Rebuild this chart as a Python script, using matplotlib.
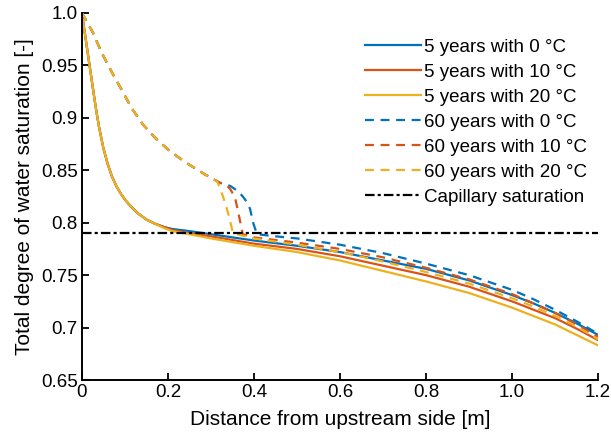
import numpy as np
import matplotlib
matplotlib.use("Agg")
import matplotlib.pyplot as plt

plt.rcParams["font.family"] = ["Liberation Sans", "DejaVu Sans"]

# 5 years (solid)
x5 = [0, 0.005, 0.01, 0.015, 0.02, 0.025, 0.03, 0.035, 0.04, 0.05, 0.06, 0.07,
      0.08, 0.09, 0.10, 0.115, 0.13, 0.15, 0.17, 0.19, 0.21, 0.25, 0.30,
      0.40, 0.50, 0.60, 0.70, 0.80, 0.90, 1.00, 1.05, 1.10, 1.15, 1.20]
y5_head = [1.0, 0.986, 0.972, 0.958, 0.944, 0.930, 0.916, 0.903, 0.891, 0.871,
           0.856, 0.844, 0.835, 0.828, 0.822, 0.815, 0.809, 0.803, 0.799]
y5_0 = y5_head + [0.796, 0.794, 0.792, 0.789, 0.783, 0.778, 0.772, 0.764,
                  0.756, 0.745, 0.731, 0.723, 0.714, 0.704, 0.693]
y5_10 = y5_head + [0.796, 0.793, 0.790, 0.787, 0.780, 0.775, 0.768, 0.759,
                   0.750, 0.739, 0.725, 0.717, 0.709, 0.699, 0.688]
y5_20 = y5_head + [0.795, 0.792, 0.789, 0.785, 0.778, 0.772, 0.764, 0.754,
                   0.744, 0.733, 0.719, 0.711, 0.703, 0.693, 0.683]

# 60 years (dashed)
x60_head = [0, 0.026, 0.046, 0.069, 0.092, 0.116, 0.143, 0.170, 0.205, 0.243,
            0.286]
y60_head = [1.0, 0.981, 0.962, 0.944, 0.927, 0.909, 0.893, 0.881, 0.868, 0.857,
            0.846]
x60_0 = x60_head + [0.321, 0.345, 0.363, 0.374, 0.385, 0.391, 0.398, 0.407, 0.45,
                    0.5, 0.6, 0.7, 0.8, 0.9, 1.0, 1.05, 1.1, 1.15, 1.2]
y60_0 = y60_head + [0.838, 0.835, 0.830, 0.825, 0.819, 0.813, 0.800, 0.789, 0.787,
                    0.785, 0.779, 0.771, 0.761, 0.750, 0.736, 0.727, 0.717, 0.706,
                    0.694]
x60_10 = x60_head + [0.321, 0.333, 0.345, 0.356, 0.367, 0.374,
                     0.40, 0.5, 0.6, 0.7, 0.8, 0.9, 1.0, 1.05, 1.1, 1.15, 1.2]
y60_10 = y60_head + [0.838, 0.837, 0.832, 0.824, 0.803, 0.789,
                     0.786, 0.781, 0.775, 0.767, 0.757, 0.746, 0.732, 0.723,
                     0.714, 0.703, 0.691]
x60_20 = x60_head + [0.315, 0.321, 0.333, 0.344, 0.351,
                     0.40, 0.5, 0.6, 0.7, 0.8, 0.9, 1.0, 1.05, 1.1, 1.15, 1.2]
y60_20 = y60_head + [0.839, 0.833, 0.819, 0.803, 0.790,
                     0.785, 0.779, 0.772, 0.763, 0.753, 0.742, 0.728, 0.720,
                     0.711, 0.701, 0.689]

cap_sat = 0.79

blue, red, yellow = "#0072BD", "#D95319", "#EDB120"
lw = 1.6
dash = (4, 3)

fig = plt.figure(figsize=(6.11, 4.44), dpi=100)
ax = fig.add_axes([0.134, 0.144, 0.845, 0.827])

ax.plot(x5, y5_0, color=blue, lw=lw, label="5 years with 0 °C")
ax.plot(x5, y5_10, color=red, lw=lw, label="5 years with 10 °C")
ax.plot(x5, y5_20, color=yellow, lw=lw, label="5 years with 20 °C")
ax.plot(x60_0, y60_0, color=blue, lw=lw, dashes=dash, label="60 years with 0 °C")
ax.plot(x60_10, y60_10, color=red, lw=lw, dashes=dash, label="60 years with 10 °C")
ax.plot(x60_20, y60_20, color=yellow, lw=lw, dashes=dash, label="60 years with 20 °C")
ax.plot([0, 1.2], [cap_sat, cap_sat], color="black", lw=lw,
        dashes=(4.3, 1.4, 1.4, 1.4), label="Capillary saturation")

ax.set_xlim(0, 1.2)
ax.set_ylim(0.65, 1.0)
xt = [0, 0.2, 0.4, 0.6, 0.8, 1.0, 1.2]
ax.set_xticks(xt)
ax.set_xticklabels(["0", "0.2", "0.4", "0.6", "0.8", "1.0", "1.2"])
yt = [0.65, 0.7, 0.75, 0.8, 0.85, 0.9, 0.95, 1.0]
ax.set_yticks(yt)
ax.set_yticklabels(["0.65", "0.7", "0.75", "0.8", "0.85", "0.9", "0.95", "1.0"])
ax.tick_params(direction="in", length=5, width=1.3, labelsize=13.5, pad=3)
for s in ["top", "right"]:
    ax.spines[s].set_visible(False)
for s in ["left", "bottom"]:
    ax.spines[s].set_linewidth(1.4)

ax.set_xlabel("Distance from upstream side [m]", fontsize=15, labelpad=6)
ax.set_ylabel("Total degree of water saturation [-]", fontsize=15, labelpad=5)

ax.legend(loc="upper right", bbox_to_anchor=(1.0, 0.96), frameon=False,
          fontsize=13.5, handlelength=3.0, handletextpad=0.15, labelspacing=0.42,
          borderaxespad=0.2)

fig.savefig("out.png", dpi=100)
